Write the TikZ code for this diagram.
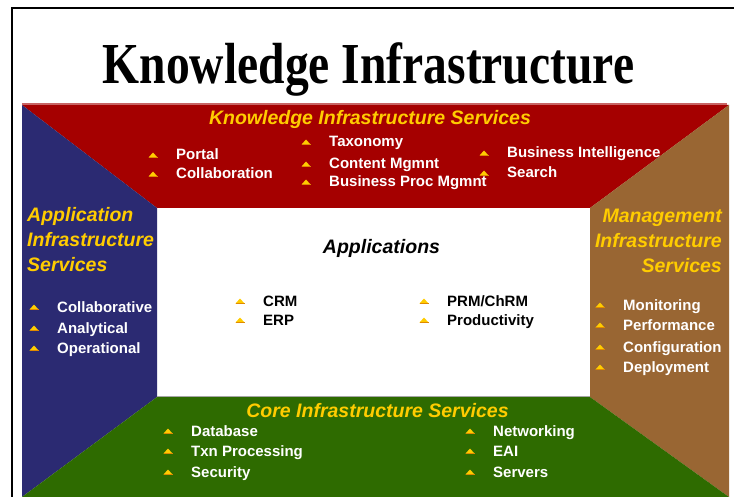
\documentclass[tikz,border=0pt]{standalone}
\usepackage{fontspec}
\setmainfont{Liberation Sans}
\newfontfamily\titlefont[FakeStretch=0.82]{Liberation Serif}

\definecolor{kired}{HTML}{A50000}
\definecolor{kibevel}{HTML}{C86464}
\definecolor{kiblue}{HTML}{2B2A72}
\definecolor{kibrown}{HTML}{996633}
\definecolor{kigreen}{HTML}{2E6B00}
\definecolor{kiyellow}{HTML}{FFCC00}
\definecolor{kiorange}{HTML}{E08A00}

\begin{document}
\begin{tikzpicture}[
  x=1pt, y=-1pt,
  item/.style={anchor=base west, inner sep=0pt, text=white,
    font=\fontsize{15}{18}\selectfont\bfseries},
  heading/.style={inner sep=0pt, text=kiyellow,
    font=\fontsize{19.5}{25}\selectfont\bfseries\itshape},
  bullet/.pic={
    \fill[kiyellow] (-4.5,2.5) -- (4.5,2.5) -- (0,-2.5) -- cycle;
    \draw[kiorange, line width=0.8pt] (-4.5,2.5) -- (4.5,2.5);
  }
]
\useasboundingbox (0,0) rectangle (736,497);

% Frame
\draw[line width=1.2pt] (12,497) -- (12,8) -- (734,8);

% Title
\node[anchor=base, inner sep=0pt,
  font=\titlefont\bfseries\fontsize{58}{60}\selectfont] (title) at (368.5,84)
  {Knowledge Infrastructure};

% Outer and inner corners
\coordinate (otl) at (22,105);
\coordinate (otr) at (729,105);
\coordinate (obr) at (729,497);
\coordinate (obl) at (22,497);
\coordinate (itl) at (157,208);
\coordinate (itr) at (590,208);
\coordinate (ibr) at (590,397);
\coordinate (ibl) at (157,397);

% Panels
\fill[kired] (otl) -- (otr) -- (itr) -- (itl) -- cycle;
\fill[kiblue] (otl) -- (itl) -- (ibl) -- (obl) -- cycle;
\fill[kibrown] (otr) -- (obr) -- (ibr) -- (itr) -- cycle;
\fill[kigreen] (ibl) -- (ibr) -- (obr) -- (obl) -- cycle;
\draw[kibevel, line width=2pt] ([yshift=1pt]otl) -- ([xshift=-2pt,yshift=1pt]otr);
\draw[gray!70, line width=1.5pt] ([yshift=0.75pt]ibl) -- ([yshift=0.75pt]ibr);

% Headings
\node[heading, anchor=base] (kis) at (370,125) {Knowledge Infrastructure Services};
\node[heading, anchor=north west, align=left] (ais) at (27,207)
  {Application\\Infrastructure\\Services};
\node[heading, anchor=north east, align=right] (mis) at (722,209)
  {Management\\Infrastructure\\Services};
\node[heading, anchor=base, text=black] (apps) at (381.5,253) {Applications};
\node[heading, anchor=base] (cis) at (377.5,417) {Core Infrastructure Services};

% Bulleted items
\foreach \n/\x/\y/\t in {
    portal/176/160/Portal, collab/176/179/Collaboration,
    taxo/329/147/Taxonomy, content/329/169/Content Mgmnt,
    bpm/329/187/Business Proc Mgmnt,
    bi/507/158/Business Intelligence, search/507/178/Search,
    collabv/57/312/Collaborative, analyt/57/333/Analytical,
    operat/57/353/Operational,
    monit/623/310/Monitoring, perf/623/330/Performance,
    config/623/352/Configuration, deploy/623/372/Deployment,
    db/191/436/Database, txn/191/456/Txn Processing, secur/191/477/Security,
    netw/493/436/Networking, eai/493/456/EAI, serv/493/477/Servers}{
  \node[item] (\n) at (\x,\y) {\t};
  \pic at ([xshift=-23pt,yshift=5pt]\n.base west) {bullet};
}
\foreach \n/\x/\y/\t in {
    crm/263/306/CRM, erp/263/325/ERP,
    prm/447/306/{PRM/ChRM}, prod/447/325/Productivity}{
  \node[item, text=black] (\n) at (\x,\y) {\t};
  \pic at ([xshift=-23pt,yshift=5pt]\n.base west) {bullet};
}
\end{tikzpicture}
\end{document}
